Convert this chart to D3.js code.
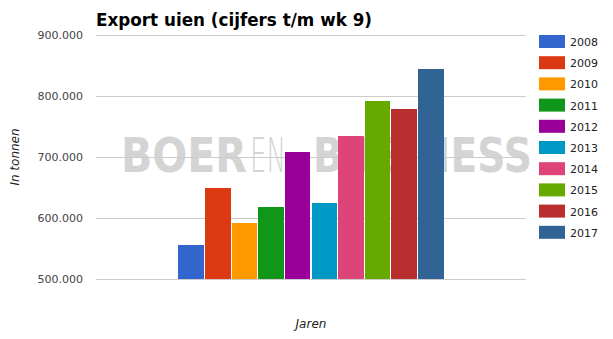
<!DOCTYPE html>
<html>
<head>
<meta charset="utf-8">
<script src="https://cdn.jsdelivr.net/npm/d3@7"></script>
<style>
  body { margin: 0; background: #fff; }
  text { font-family: "DejaVu Sans", sans-serif; }
</style>
</head>
<body>
<div id="chart"></div>
<script>
// data
var years = ["2008", "2009", "2010", "2011", "2012", "2013", "2014", "2015", "2016", "2017"];
var exports = [556000, 650000, 592000, 618000, 709000, 625000, 734000, 792000, 779000, 844000];
var colors = ["#3366cc", "#dc3912", "#ff9900", "#109618", "#990099", "#0099c6", "#dd4477", "#66aa00", "#b82e2e", "#316395"];
var yTicks = [500000, 600000, 700000, 800000, 900000];

var width = 613, height = 339;
var margin = { left: 96, right: 87, top: 35, bottom: 60 };
var w = width - margin.left - margin.right,
    h = height - margin.top - margin.bottom;

var svg = d3.select("#chart").append("svg")
    .attr("width", width)
    .attr("height", height);

// watermark (behind everything), three pieces squeezed to fit
var wmParts = [
    { t: "BOER", x: 121, len: 126, wt: "bold" },
    { t: "EN", x: 250, len: 36, wt: "200" },
    { t: "BUSINESS", x: 313, len: 219, wt: "bold" }
];
svg.append("g").selectAll("text")
    .data(wmParts)
    .enter().append("text")
        .attr("fill", "#d4d4d4")
        .attr("font-weight", function(d){ return d.wt; })
        .style("font-size", "48px")
        .text(function(d){ return d.t; })
        .attr("transform", function(d){
            var natural = this.getComputedTextLength();
            return "translate(" + d.x + ",172) scale(" + (d.len / natural) + ",1)";
        });

var g = svg.append("g")
    .attr("transform", "translate(" + margin.left + "," + margin.top + ")");

var y = d3.scaleLinear().domain([500000, 900000]).range([h, 0]);

// one (empty) category, ten series
var x0 = d3.scaleBand().domain([""]).range([0, w]).paddingInner(0).paddingOuter(0.31);
var x1 = d3.scaleBand().domain(years).range([0, x0.bandwidth()]).paddingInner(0.04);

var fmt = function(d){ return d3.format(",")(d).replace(/,/g, "."); };

// gridlines
g.append("g").selectAll("line")
    .data(yTicks)
    .enter().append("line")
        .attr("x1", 0).attr("x2", w)
        .attr("y1", function(d){ return y(d); })
        .attr("y2", function(d){ return y(d); })
        .attr("stroke", "#cccccc")
        .attr("stroke-width", 1)
        .attr("shape-rendering", "crispEdges");

// y axis labels
var yAxis = d3.axisLeft(y).tickValues(yTicks).tickFormat(fmt).tickSize(0).tickPadding(13);
var ya = g.append("g").call(yAxis);
ya.select(".domain").remove();
ya.selectAll("text")
    .attr("fill", "#444444")
    .style("font-size", "11px");

// bars
var bars = g.append("g")
    .attr("transform", "translate(" + x0("") + ",0)");
bars.selectAll("rect")
    .data(years)
    .enter().append("rect")
        .attr("x", function(d){ return x1(d); })
        .attr("y", function(d, i){ return y(exports[i]); })
        .attr("width", x1.bandwidth())
        .attr("height", function(d, i){ return h - y(exports[i]); })
        .attr("fill", function(d, i){ return colors[i]; })
        .attr("shape-rendering", "crispEdges");

// baseline
g.append("line")
    .attr("x1", 0).attr("x2", w)
    .attr("y1", h).attr("y2", h)
    .attr("stroke", "#cccccc")
    .attr("shape-rendering", "crispEdges");

// title
svg.append("text")
    .attr("x", margin.left)
    .attr("y", 26)
    .attr("fill", "#000")
    .style("font-size", "17px")
    .style("font-weight", "bold")
    .attr("textLength", 276)
    .attr("lengthAdjust", "spacingAndGlyphs")
    .text("Export uien (cijfers t/m wk 9)");

// axis titles
svg.append("text")
    .attr("transform", "translate(19," + (margin.top + h / 2) + ") rotate(-90)")
    .attr("text-anchor", "middle")
    .style("font-size", "12px")
    .style("font-style", "italic")
    .attr("fill", "#222")
    .text("In tonnen");

svg.append("text")
    .attr("x", margin.left + w / 2)
    .attr("y", 328)
    .attr("text-anchor", "middle")
    .style("font-size", "12px")
    .style("font-style", "italic")
    .attr("fill", "#222")
    .text("Jaren");

// legend
var legend = svg.append("g")
    .attr("transform", "translate(539,35)");
var item = legend.selectAll("g")
    .data(years)
    .enter().append("g")
        .attr("transform", function(d, i){ return "translate(0," + (i * 21.2) + ")"; });
item.append("rect")
    .attr("width", 26).attr("height", 13)
    .attr("fill", function(d, i){ return colors[i]; });
item.append("text")
    .attr("x", 31).attr("y", 11)
    .attr("fill", "#222")
    .style("font-size", "11px")
    .text(function(d){ return d; });
</script>
</body>
</html>
